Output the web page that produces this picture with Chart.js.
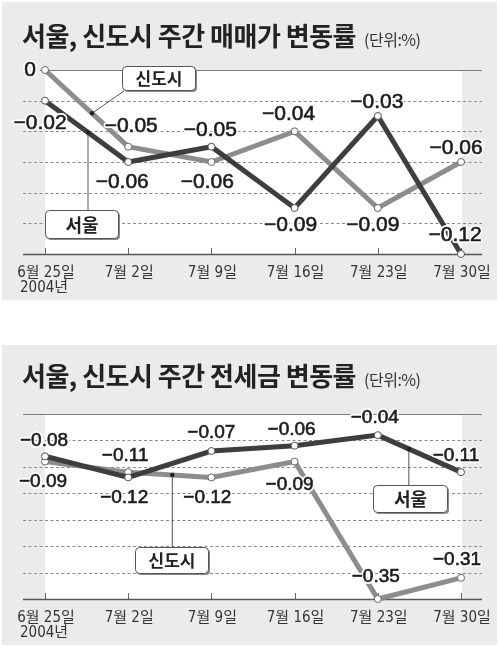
<!DOCTYPE html>
<html><head><meta charset="utf-8">
<script src="https://cdn.jsdelivr.net/npm/chart.js@4.4.0/dist/chart.umd.min.js"></script>
<style>
html,body{margin:0;padding:0;background:#fff;width:500px;height:647px;overflow:hidden;position:relative}
.panel{position:absolute;left:2px;width:495px;background:#ebebeb}
#p1{top:2px;height:298px}
#p2{top:345px;height:300px}
canvas{position:absolute;left:0}
.title{position:absolute;left:22px;font-family:'Noto Sans CJK KR';font-weight:700;font-size:26px;line-height:26px;color:#222;white-space:nowrap;letter-spacing:-0.5px}
.title span{font-weight:400;font-size:16px;letter-spacing:-0.5px;margin-left:8px;color:#333}
</style></head>
<body>
<div class="panel" id="p1"></div><div class="panel" id="p2"></div>
<canvas id="c1" style="top:0;width:500px;height:300px"></canvas>
<canvas id="c2" style="top:345px;width:500px;height:300px"></canvas>
<div class="title" style="top:22px">서울, 신도시 주간 매매가 변동률<span>(단위:%)</span></div>
<div class="title" style="top:362px">서울, 신도시 주간 전세금 변동률<span>(단위:%)</span></div>
<script>
// ---- data ----
const dates = ['6월 25일','7월 2일','7월 9일','7월 16일','7월 23일','7월 30일'];
const yearLabel = '2004년';
const seriesNames = ['서울','신도시'];
const saleSeoul = [-0.02,-0.06,-0.05,-0.09,-0.03,-0.12];
const saleNewTown = [0,-0.05,-0.06,-0.04,-0.09,-0.06];
const rentSeoul = [-0.08,-0.12,-0.07,-0.06,-0.04,-0.11];
const rentNewTown = [-0.09,-0.11,-0.12,-0.09,-0.35,-0.31];
const saleTicks = [0,-0.02,-0.04,-0.06,-0.08,-0.10,-0.12];
const rentTicks = [0,-0.05,-0.10,-0.15,-0.20,-0.25,-0.30,-0.35];

// ---- styles ----
const DARK='#3e3e3e', GRAY='#8d8d8d';
const NARROW="'Liberation Sans Narrow','DejaVu Sans Condensed','Noto Sans CJK KR',sans-serif";
function fmt(v){ return v===0 ? '0' : '\u2212'+Math.abs(v).toFixed(2); }

function makePlugin(cfg){
  return {
    id:'deco',
    beforeDatasetsDraw(chart){
      const ctx=chart.ctx, a=chart.chartArea, y=chart.scales.y, x=chart.scales.x;
      ctx.save();
      ctx.fillStyle='#fff';
      ctx.fillRect(a.left,a.top,a.right-a.left+1,a.bottom-a.top);
      cfg.ticks.forEach((t,i)=>{
        const py=Math.round(y.getPixelForValue(t))+0.5;
        ctx.beginPath();
        if(i===0){ ctx.setLineDash([]); ctx.strokeStyle='#7a7a7a'; ctx.lineWidth=1.2; ctx.moveTo(cfg.topLineStart,py); }
        else if(i===cfg.ticks.length-1){ ctx.setLineDash([]); ctx.strokeStyle='#555'; ctx.lineWidth=1.5; ctx.moveTo(23,py); }
        else { ctx.setLineDash([3,2.5]); ctx.strokeStyle='#8a8a8a'; ctx.lineWidth=1; ctx.moveTo(23,py); }
        ctx.lineTo(482,py); ctx.stroke();
      });
      ctx.setLineDash([]);
      ctx.strokeStyle='#666'; ctx.lineWidth=1;
      dates.forEach((d,i)=>{
        const px=Math.round(x.getPixelForValue(i))+0.5;
        ctx.beginPath(); ctx.moveTo(px,a.bottom-6); ctx.lineTo(px,a.bottom); ctx.stroke();
      });
      ctx.fillStyle='#333'; ctx.font='15px '+NARROW; ctx.textAlign='center'; ctx.textBaseline='middle';
      dates.forEach((d,i)=>{ ctx.fillText(d,x.getPixelForValue(i)+1,a.bottom+19); });
      ctx.textAlign='left';
      ctx.fillText(yearLabel,20,a.bottom+34);
      // leader lines
      ctx.strokeStyle='#555'; ctx.lineWidth=1;
      cfg.callouts.forEach(c=>{
        const p=dotPos(chart,c);
        ctx.beginPath(); ctx.moveTo(p.x,p.y);
        if(c.to) ctx.lineTo(c.to[0],c.to[1]); else ctx.lineTo(p.x,c.box[1]);
        ctx.stroke();
      });
      ctx.restore();
    },
    afterDatasetsDraw(chart){
      const ctx=chart.ctx;
      ctx.save();
      cfg.callouts.forEach(c=>{
        const p=dotPos(chart,c);
        ctx.fillStyle='#222'; ctx.beginPath(); ctx.arc(p.x,p.y,2.2,0,Math.PI*2); ctx.fill();
        const [bx,by,bw,bh]=c.box;
        ctx.fillStyle='#8a8a8a'; rr(ctx,bx+2,by+2,bw,bh,4); ctx.fill();
        ctx.fillStyle='#fff'; ctx.strokeStyle='#555'; ctx.lineWidth=1;
        rr(ctx,bx+0.5,by+0.5,bw,bh,4); ctx.fill(); ctx.stroke();
        ctx.fillStyle='#222'; ctx.font='bold '+c.size+"px 'Noto Sans CJK KR'";
        ctx.textAlign='center'; ctx.textBaseline='middle';
        ctx.fillText(c.text,bx+bw/2+0.5,by+bh/2+1);
      });
      // value labels
      ctx.font=cfg.labelSize+"px 'Liberation Sans','Arial',sans-serif";
      ctx.textAlign='center'; ctx.textBaseline='middle';
      ctx.lineJoin='round';
      chart.data.datasets.forEach((ds,si)=>{
        const meta=chart.getDatasetMeta(si);
        ds.data.forEach((v,i)=>{
          const pt=meta.data[i], off=cfg.offsets[si][i];
          const tx=pt.x+off[0], ty=pt.y+off[1];
          ctx.strokeStyle='#fff'; ctx.lineWidth=4; ctx.strokeText(fmt(v),tx,ty);
          ctx.fillStyle='#1c1c1c'; ctx.fillText(fmt(v),tx,ty);
          ctx.strokeStyle='#1c1c1c'; ctx.lineWidth=0.6; ctx.strokeText(fmt(v),tx,ty);
        });
      });
      ctx.restore();
    }
  };
}
function rr(ctx,x,y,w,h,r){
  ctx.beginPath(); ctx.moveTo(x+r,y); ctx.lineTo(x+w-r,y); ctx.quadraticCurveTo(x+w,y,x+w,y+r);
  ctx.lineTo(x+w,y+h-r); ctx.quadraticCurveTo(x+w,y+h,x+w-r,y+h); ctx.lineTo(x+r,y+h);
  ctx.quadraticCurveTo(x,y+h,x,y+h-r); ctx.lineTo(x,y+r); ctx.quadraticCurveTo(x,y,x+r,y); ctx.closePath();
}
function dotPos(chart,c){
  const m=chart.getDatasetMeta(c.series).data;
  const a=m[c.seg], b=m[c.seg+1];
  return {x:a.x+(b.x-a.x)*c.frac, y:a.y+(b.y-a.y)*c.frac};
}
function build(id,seoul,newTown,ticks,padTop,cfg){
  new Chart(document.getElementById(id),{
    type:'line',
    data:{labels:dates,datasets:[
      {label:seriesNames[0],data:seoul,borderColor:DARK,borderWidth:5,tension:0,clip:false,
       pointRadius:3.5,pointBackgroundColor:'#fff',pointBorderColor:'#555',pointBorderWidth:1},
      {label:seriesNames[1],data:newTown,borderColor:GRAY,borderWidth:5,tension:0,clip:false,
       pointRadius:3.5,pointBackgroundColor:'#fff',pointBorderColor:'#666',pointBorderWidth:1}
    ]},
    options:{
      responsive:false,animation:false,
      layout:{padding:{left:45,right:39,top:padTop,bottom:46}},
      plugins:{legend:{display:false},tooltip:{enabled:false}},
      scales:{
        x:{type:'category',display:false,offset:false},
        y:{display:false,min:ticks[ticks.length-1],max:ticks[0]}
      }
    },
    plugins:[makePlugin(Object.assign({ticks},cfg))]
  });
}
build('c1',saleSeoul,saleNewTown,saleTicks,70,{
  topLineStart:40, labelSize:21,
  offsets:[
    [[-5,23],[-6,20],[-1,-16],[-4,17],[-1,-14],[-6,-19]],
    [[-15,0],[3,-20],[-4,20],[-6,-17],[-5,17],[-5,-14]]
  ],
  callouts:[
    {text:'신도시',size:17,box:[122,66,73,24],series:1,seg:0,frac:0.565,to:[124,91]},
    {text:'서울',size:18,box:[45,210,73,28],series:0,seg:0,frac:0.517}
  ]
});
build('c2',rentSeoul,rentNewTown,rentTicks,69,{
  topLineStart:23, labelSize:19,
  offsets:[
    [[-1,-16],[-4,20],[0,-18],[-3,-16],[-3,-17],[-5,-16]],
    [[-2,20],[-3,-16],[-4,20],[-5,23],[-2,-22],[-4,-18]]
  ],
  callouts:[
    {text:'서울',size:18,box:[373,140,74,27],series:0,seg:4,frac:0.373},
    {text:'신도시',size:17,box:[135,202,73,26],series:1,seg:1,frac:0.53}
  ]
});
</script>
</body></html>
